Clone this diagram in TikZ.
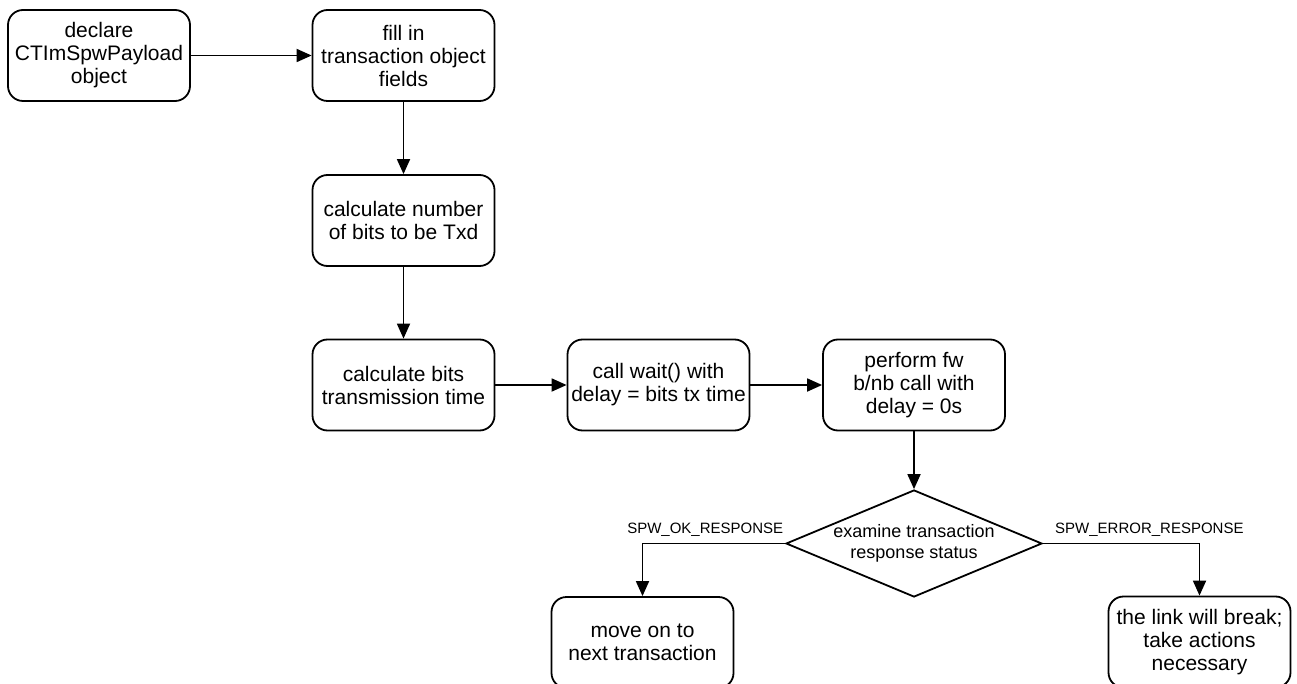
\documentclass[tikz,border=0pt]{standalone}
\usepackage{fontspec}
\setmainfont{Liberation Sans}
\usetikzlibrary{arrows.meta,shapes.geometric}

\begin{document}
\begin{tikzpicture}[x=1pt,y=-1pt]
	\tikzstyle{comp} = [
		rectangle, draw=black, line width=1.8pt, rounded corners=15pt, align=center
	]
	\tikzstyle{action} = [
		comp, minimum width=182pt, minimum height=91pt, inner sep=2pt, font=\fontsize{21}{23}\selectfont
	]
	\tikzstyle{decision} = [
		diamond, draw=black, line width=1.8pt, align=center, aspect=2.4, inner sep=0pt,
		minimum width=256pt, minimum height=107pt, font=\fontsize{18}{21}\selectfont
	]
	\tikzstyle{resp} = [
		above, inner sep=0pt, yshift=6pt, font=\fontsize{15}{17}\selectfont
	]
	\tikzstyle{conn} = [
		-{Triangle[length=15pt, width=13pt]}, line width=1.8pt
	]

	\useasboundingbox (0,0) rectangle (1297,684);

	% Top row
	\node (Declare) [action] at (99,55.5) {declare\\CTImSpwPayload\\object};
	\node (FillIn) [action] at (403.5,55.5) {fill in\\transaction object\\fields};

	% Middle column
	\node (CalcNumber) [action] at (403.5,220.5) {calculate number\\of bits to be Txd};
	\node (CalcBits) [action] at (403.5,385) {calculate bits\\transmission time};

	% Wait / call
	\node (Wait) [action] at (658.5,385) {call wait() with\\delay = bits tx time};
	\node (Perform) [action] at (914,385) {perform fw\\b/nb call with\\delay = 0s};

	% Response check
	\node (Examine) [decision] at (914,543.5) {examine transaction\\response status};
	\node (MoveOn) [action] at (642.5,642.5) {move on to\\next transaction};
	\node (LinkBreak) [action] at (1199.5,642) {the link will break;\\take actions\\necessary};

	% Flow
	\draw[conn] (Declare) -- (FillIn);
	\draw[conn] (FillIn) -- (CalcNumber);
	\draw[conn] (CalcNumber) -- (CalcBits);
	\draw[conn] (CalcBits) -- (Wait);
	\draw[conn] (Wait) -- (Perform);
	\draw[conn] (Perform) -- (Examine);

	% Branches
	\draw[conn] (Examine.west) -| (MoveOn.north) node[resp, pos=0.28] {SPW\_OK\_RESPONSE};
	\draw[conn] (Examine.east) -| (LinkBreak.north) node[resp, pos=0.34] {SPW\_ERROR\_RESPONSE};

\end{tikzpicture}
\end{document}
